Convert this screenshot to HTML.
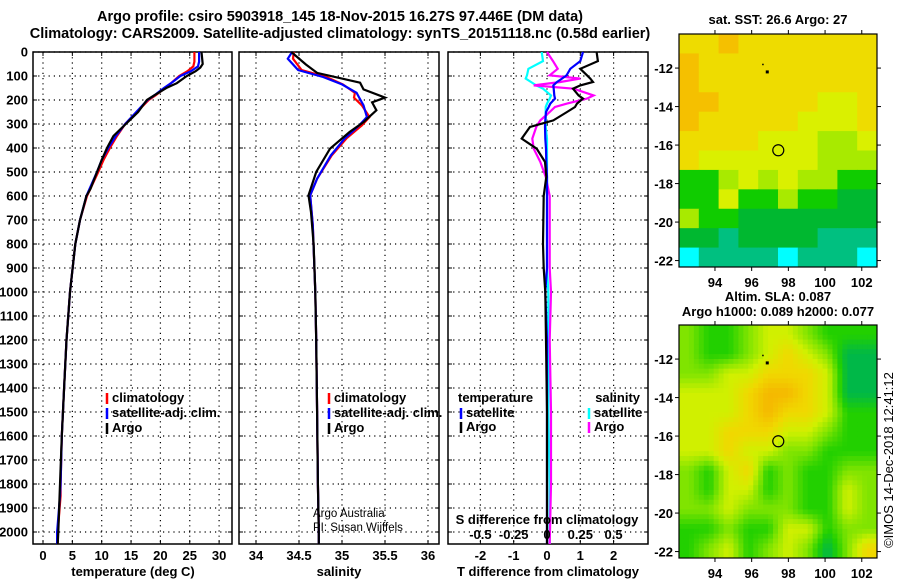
<!DOCTYPE html>
<html><head><meta charset="utf-8"><style>
body{margin:0;background:#fff;width:900px;height:580px;overflow:hidden}
svg{font-family:"Liberation Sans",sans-serif;font-weight:bold}
</style></head><body>
<svg id="s" width="900" height="580"></svg>
<script>
// ---- data ----
const tDepthArgo=[0,50,65,80,100,130,150,180,200,250,300,350,400,450,500,570,600,700,800,1000,1200,1400,1600,1800,2000,2050];
const tArgo=[27,27.2,26.8,26,24.5,22.8,21,19,17.7,16.2,14.1,12,10.9,10,9.2,8.1,7.4,6.3,5.5,4.6,4.0,3.6,3.2,2.9,2.6,2.5];
const tDepthClim=[0,40,60,80,100,130,150,180,200,250,300,350,400,450,500,600,700,800,1000,1200,1400,1600,1800,1850,2000,2050];
const tClim=[25.8,25.8,25.6,24.6,23.2,21.8,20.8,19.2,18.0,16.0,14.0,12.6,11.4,10.3,9.4,7.5,6.3,5.5,4.6,4.0,3.6,3.2,3.0,3.0,2.5,2.5];
const tSat=[26.6,26.6,26.4,25.2,23.4,21.8,20.6,19.0,17.8,15.9,14.0,12.4,11.1,10.0,9.2,7.4,6.3,5.5,4.6,4.0,3.6,3.2,3.0,2.9,2.4,2.4];
const sDepthArgo=[0,52,87,128,156,190,210,243,292,333,403,500,597,667,800,1000,1200,1500,1800,2000,2050];
const sArgo=[34.41,34.58,34.71,35.21,35.25,35.5,35.35,35.4,35.25,35.09,34.86,34.7,34.61,34.64,34.67,34.69,34.7,34.71,34.72,34.73,34.73];
const sDepthClim=[0,28,75,104,135,170,190,222,271,306,361,431,528,597,722,1000,1200,1500,1800,2000,2050];
const sClim=[34.44,34.43,34.53,34.82,35.01,35.15,35.14,35.23,35.32,35.23,35.05,34.88,34.71,34.63,34.66,34.69,34.7,34.71,34.72,34.73,34.73];
const sSat=[34.42,34.37,34.49,34.78,35.0,35.17,35.2,35.25,35.29,35.2,35.03,34.87,34.71,34.63,34.66,34.69,34.7,34.71,34.72,34.73,34.73];
const dDepth=[0,38,70,97,111,125,139,153,181,194,215,229,250,285,312,361,403,458,520,600,800,900,1000,1200,1500,1800,2050];
const dTArgo=[1.49,1.53,1.0,1.2,1.3,1.38,1.0,0.78,0.95,1.08,0.9,0.84,0.6,0.19,-0.51,-0.76,-0.31,-0.06,-0.02,-0.1,-0.12,-0.1,-0.05,-0.03,0,0,0];
const dTSat=[1.08,1.0,0.7,0.59,0.45,0.3,0.19,0.2,0.22,0.24,0.1,0.05,-0.03,-0.05,-0.06,-0.05,-0.03,-0.02,0,0,0,0,-0.05,0,0,0,0];
const dSArgo=[0,0.045,0.08,0.02,0.25,0.1,-0.1,0.2,0.35,0.3,0.15,0.06,0.02,-0.05,-0.08,-0.11,-0.1,-0.05,-0.01,0.02,0.02,0.02,0.03,0.02,0.03,0.03,0.02];
const dSSat=[-0.04,-0.03,-0.14,-0.15,-0.16,-0.12,-0.08,-0.03,0.03,0.02,0.0,-0.01,-0.01,-0.01,-0.01,0,0,0,0,0,0,0,0.01,0.01,0.01,0.02,0.02];
const depthTicks=[0,100,200,300,400,500,600,700,800,900,1000,1100,1200,1300,1400,1500,1600,1700,1800,1900,2000];
const tTicks=[0,5,10,15,20,25,30];
const sTicks=[34,34.5,35,35.5,36];
const dTTicks=[-2,-1,0,1,2];
const dSTicks=[-0.5,-0.25,0,0.25,0.5];
const dSTickLabels=["-0.5","-0.25","0","0.25","0.5"];
const lonTicks=[94,96,98,100,102];
const latTicks=[-12,-14,-16,-18,-20,-22];
const sstGrid=[
[5,5,6,5,5,5,5,5,5,5],[6,5,5,5,5,5,5,5,5,5],[6,5,5,5,5,5,5,5,5,5],[6,6,5,5,5,5,5,4,4,5],
[6,5,5,5,5,5,4,4,4,5],[5,5,5,5,4,4,4,3,3,4],[5,4,4,4,4,4,4,3,3,3],[2,2,3,4,3,4,3,3,2,2],
[2,2,4,2,2,3,2,2,1,1],[3,2,2,1,1,1,1,1,1,1],[1,1,0,1,1,1,1,0,0,0],[-1,0,0,0,0,-1,0,0,0,-1]];
const slaGrid=[
[2,1,1,2,3,3,2,1,1,1],[2,1,1,2,3,4,3,2,0,0],[2,2,3,3,4,4,4,3,0,0],[3,3,3,4,5,5,4,3,0,0],
[3,3,3,4,5,4,4,3,1,1],[3,3,4,4,4,3,3,2,1,1],[3,3,4,3,3,2,2,1,1,1],[2,1,3,4,1,2,1,1,2,2],
[2,1,3,3,1,2,1,1,3,2],[2,2,3,2,2,2,1,1,3,2],[1,1,2,1,1,3,3,1,2,2],[1,2,3,1,2,3,2,0,2,4]];
// ---- helpers ----
const S=document.getElementById('s');const NS='http://www.w3.org/2000/svg';
function mk(t,a,p){const e=document.createElementNS(NS,t);for(const k in a)e.setAttribute(k,a[k]);(p||S).appendChild(e);return e;}
function txt(x,y,s,o){o=o||{};const e=mk('text',{x:x,y:y,'font-size':o.fs||13,'text-anchor':o.a||'middle',fill:o.c||'#000'});if(o.w)e.setAttribute('font-weight',o.w);if(o.tr)e.setAttribute('transform',o.tr);e.textContent=s;return e;}
const Y=d=>52+d*0.24;
const xT=v=>43+v*5.87, xS=v=>256+(v-34)*86, xD=v=>547+v*33.3, xDS=v=>547+v*133.2;
function panel(x0,x1,name,vticks,xf){
  const g=mk('g',{});
  depthTicks.forEach(d=>{mk('line',{x1:x0,x2:x1,y1:Y(d),y2:Y(d),stroke:'#000','stroke-dasharray':'1.2,4','stroke-width':1.2},g);
    mk('line',{x1:x0,x2:x0+4,y1:Y(d),y2:Y(d),stroke:'#000'},g);mk('line',{x1:x1-4,x2:x1,y1:Y(d),y2:Y(d),stroke:'#000'},g);});
  vticks.forEach(v=>{const x=xf(v);mk('line',{x1:x,x2:x,y1:52,y2:544,stroke:'#000','stroke-dasharray':'1.2,4','stroke-width':1.2},g);
    mk('line',{x1:x,x2:x,y1:544,y2:540,stroke:'#000'},g);mk('line',{x1:x,x2:x,y1:52,y2:56,stroke:'#000'},g);});
  mk('rect',{x:x0,y:52,width:x1-x0,height:492,fill:'none',stroke:'#000','stroke-width':1.5},g);
  return g;
}
function line(ds,vs,xf,col,name,g){const p=ds.map((d,i)=>(i?'L':'M')+xf(vs[i]).toFixed(1)+','+Y(d).toFixed(1)).join('');
  const e=mk('path',{d:p,fill:'none',stroke:col,'stroke-width':2.2},g);}
// titles
let t=txt(340,21,'Argo profile: csiro 5903918_145 18-Nov-2015 16.27S 97.446E (DM data)',{fs:14.5});
t=txt(340,38,'Climatology: CARS2009. Satellite-adjusted climatology: synTS_20151118.nc (0.58d earlier)',{fs:14.5});
// panel 1
const g1=panel(33,232,'temperature-panel',tTicks,xT);
depthTicks.forEach(d=>txt(28,Y(d)+4.5,String(d),{a:'end'}));
tTicks.forEach(v=>txt(xT(v),560,String(v)));
txt(133,576,'temperature (deg C)');
line(tDepthClim,tClim,xT,'#f00','temp-climatology-line',g1);
line(tDepthClim,tSat,xT,'#00f','temp-satellite-line',g1);
line(tDepthArgo,tArgo,xT,'#000','temp-argo-line',g1);
function leg(x,y,col,label,g){const l=mk('line',{x1:x,x2:x,y1:y-9,y2:y+2,stroke:col,'stroke-width':2.5},g);
  const e=txt(x+5,y,label,{a:'start'});}
leg(107,402,'#f00','climatology');leg(107,417,'#00f','satellite-adj. clim.');leg(107,432,'#000','Argo');
// panel 2
const g2=panel(239,439,'salinity-panel',sTicks,xS);
sTicks.forEach(v=>txt(xS(v),560,String(v)));
txt(339,576,'salinity');
line(sDepthClim,sClim,xS,'#f00','sal-climatology-line',g2);
line(sDepthClim,sSat,xS,'#00f','sal-satellite-line',g2);
line(sDepthArgo,sArgo,xS,'#000','sal-argo-line',g2);
leg(329,402,'#f00','climatology');leg(329,417,'#00f','satellite-adj. clim.');leg(329,432,'#000','Argo');
txt(313,517,'Argo Australia',{a:'start',fs:11.5,w:'normal'});txt(313,531,'PI: Susan Wijffels',{a:'start',fs:11.5,w:'normal'});
// panel 3
const g3=panel(448,648,'difference-panel',dTTicks,xD);
dTTicks.forEach(v=>txt(xD(v),560,String(v)));
txt(548,576,'T difference from climatology');
line(dDepth,dSSat,xDS,'#0ff','sal-diff-satellite-line',g3);
line(dDepth,dSArgo,xDS,'#f0f','sal-diff-argo-line',g3);
line(dDepth,dTSat,xD,'#00f','temp-diff-satellite-line',g3);
line(dDepth,dTArgo,xD,'#000','temp-diff-argo-line',g3);
txt(458,402,'temperature',{a:'start'});txt(640,402,'salinity',{a:'end'});
leg(461,417,'#00f','satellite');leg(589,417,'#0ff','satellite');
leg(461,431,'#000','Argo');leg(589,431,'#f0f','Argo');
txt(547,524,'S difference from climatology');
dSTicks.forEach((v,i)=>txt(xDS(v),539,dSTickLabels[i]));
// maps
const lonX=l=>679+(l-92.04)*18.35, latY=(la,oy)=>oy+(-10.23-la)*19.25;
const sstCol={'-1':'#00ffff',0:'#00c080',1:'#00b830',2:'#10cc00',3:'#a8ea00',4:'#daf000',5:'#eedc00',6:'#f5c000'};
const slaRGB=[[0,184,72],[34,208,0],[128,228,0],[208,240,0],[240,216,0],[245,184,0]];
function map(oy,grid,colf,smooth,name){
  const g=mk('g',{});
  const R=grid.length,C=grid[0].length;
  if(!smooth){const w=198/C,h=233/R;
    grid.forEach((r,i)=>r.forEach((v,j)=>mk('rect',{x:679+j*w,y:oy+i*h,width:w+0.5,height:h+0.5,fill:colf(v)},g)));}
  else{const n=4,w=198/(C*n),h=233/(R*n);
    for(let i=0;i<R*n;i++)for(let j=0;j<C*n;j++){
      const fy=Math.min(Math.max((i+0.5)/n-0.5,0),R-1),fx=Math.min(Math.max((j+0.5)/n-0.5,0),C-1);
      const i0=Math.floor(fy),j0=Math.floor(fx),i1=Math.min(i0+1,R-1),j1=Math.min(j0+1,C-1),a=fy-i0,b=fx-j0;
      const v=grid[i0][j0]*(1-a)*(1-b)+grid[i0][j1]*(1-a)*b+grid[i1][j0]*a*(1-b)+grid[i1][j1]*a*b;
      mk('rect',{x:679+j*w,y:oy+i*h,width:w+0.5,height:h+0.5,fill:colf(v)},g);}}
  mk('rect',{x:679,y:oy,width:198,height:233,fill:'none',stroke:'#000','stroke-width':1.2},g);
  latTicks.forEach(la=>{const y=latY(la,oy);mk('line',{x1:675,x2:679,y1:y,y2:y,stroke:'#000'},g);mk('line',{x1:877,x2:881,y1:y,y2:y,stroke:'#000'},g);txt(673,y+5,String(la),{a:'end'});});
  lonTicks.forEach(l=>{const x=lonX(l);mk('line',{x1:x,x2:x,y1:oy+233,y2:oy+237,stroke:'#000'},g);mk('line',{x1:x,x2:x,y1:oy,y2:oy-4,stroke:'#000'},g);txt(x,oy+253,String(l));});
  const c=mk('circle',{cx:lonX(97.45),cy:latY(-16.27,oy),r:5.5,fill:'none',stroke:'#000','stroke-width':1.2},g);
  mk('rect',{x:lonX(96.85)-1.5,y:latY(-12.2,oy)-1.5,width:3,height:3,fill:'#000'},g);
  mk('rect',{x:lonX(96.6)-0.5,y:latY(-11.8,oy)-0.5,width:1.5,height:1.5,fill:'#000'},g);
}
map(34,sstGrid,v=>sstCol[v],false,'sst-map');
map(325,slaGrid,v=>{const k=Math.min(Math.floor(v),4),f=v-k,a=slaRGB[k],b=slaRGB[k+1];return 'rgb('+a.map((q,i)=>Math.round(q+(b[i]-q)*f)).join(',')+')';},true,'sla-map');
txt(778,24,'sat. SST: 26.6 Argo: 27');
txt(778,301,'Altim. SLA: 0.087');txt(778,316,'Argo h1000: 0.089 h2000: 0.077');
txt(893,460,'©IMOS 14-Dec-2018 12:41:12',{w:'normal',tr:'rotate(-90 893 460)'});
</script>
</body></html>
